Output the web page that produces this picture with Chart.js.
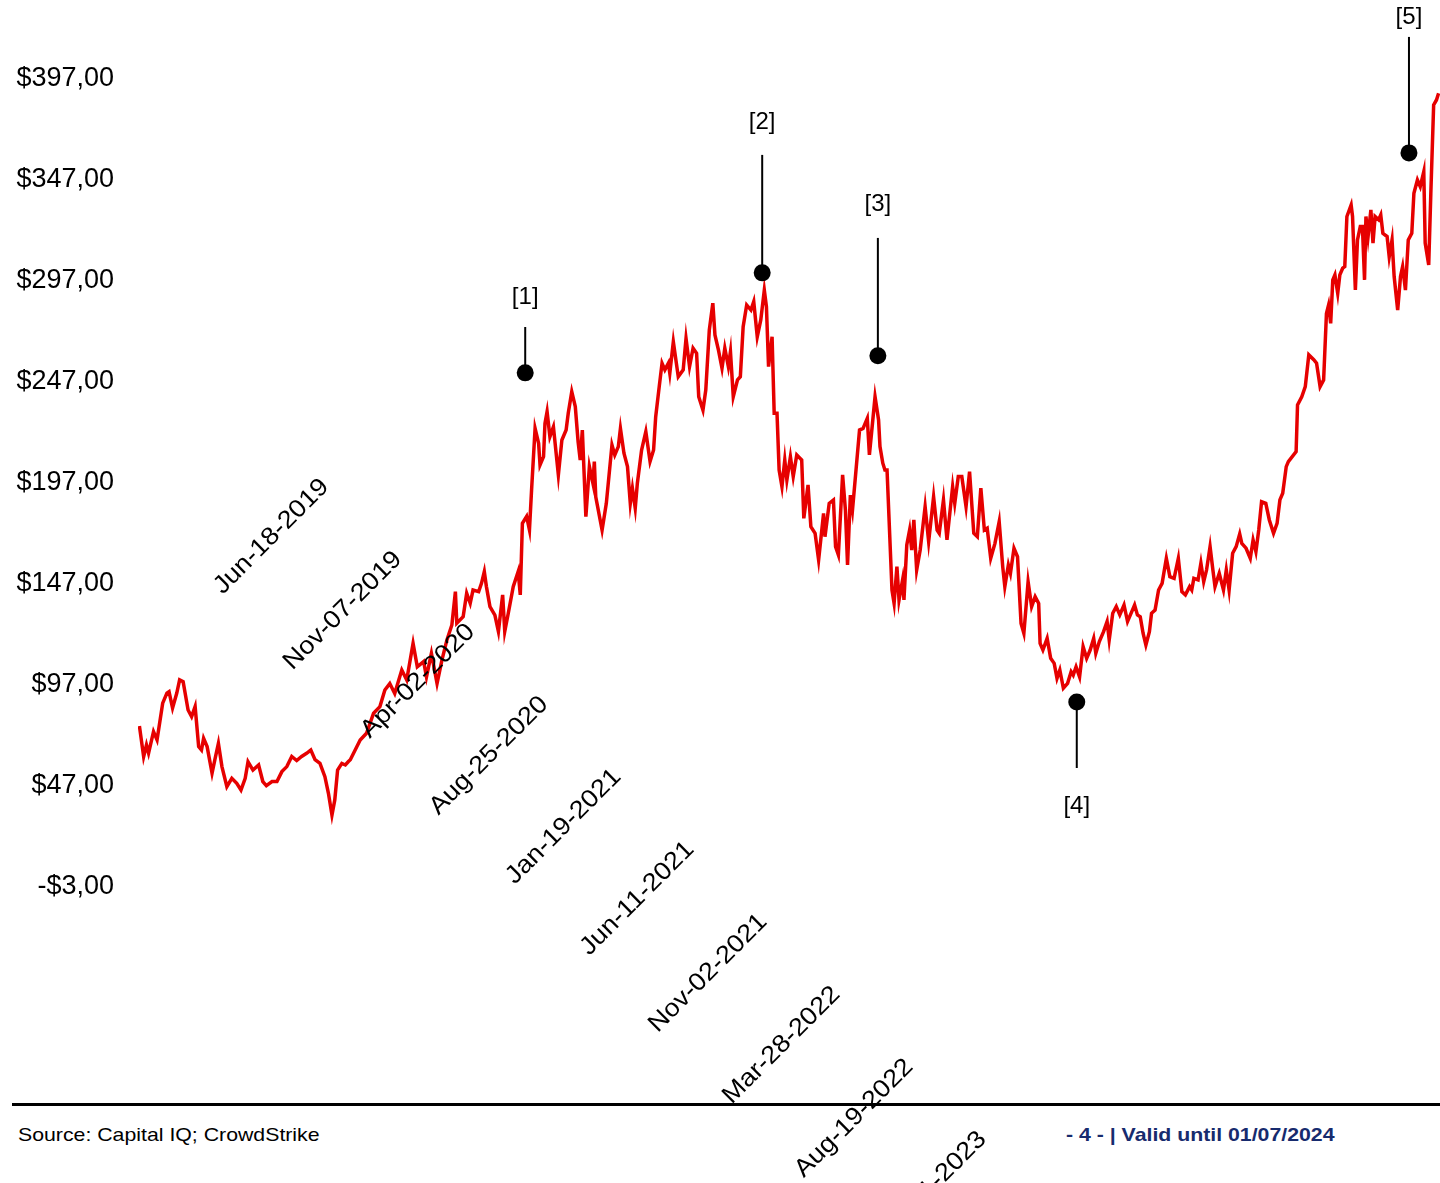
<!DOCTYPE html>
<html>
<head>
<meta charset="utf-8">
<title>CrowdStrike share price</title>
<script src="https://cdn.jsdelivr.net/npm/chart.js"></script>
<style>
  body { margin: 0; background: #fff; font-family: "Liberation Sans", Arial, sans-serif; }
  #wrap { position: relative; width: 1440px; height: 1183px; overflow: hidden; }
  #rule { position: absolute; left: 12px; top: 1103px; width: 1428px; height: 3px; background: #000; }
  .foot { position: absolute; top: 1123px; font-size: 19px; line-height: 24px; white-space: nowrap;
          transform-origin: left center; transform: scaleX(1.12); }
  #src { left: 18px; color: #000; }
  #valid { left: 1066px; color: #172b6e; font-weight: bold; }
  canvas { position: absolute; left: 0; top: 0; }
</style>
</head>
<body>
<div id="wrap">
  <div id="rule"></div>
  <div class="foot" id="src">Source: Capital IQ; CrowdStrike</div>
  <div class="foot" id="valid">- 4 - | Valid until 01/07/2024</div>
  <canvas id="chart" width="1440" height="1183"></canvas>
</div>
<script>
// days since IPO (Jun-12-2019) and closing price in USD
const days = [
  2, 8, 12, 15, 22, 27, 35, 41, 44, 49,
  55, 59, 64, 71, 76, 81, 86, 90, 93, 98,
  105, 109, 114, 119, 126, 133, 140, 146, 152, 156,
  163, 171, 177, 182, 190, 197, 204, 211, 218, 225,
  232, 239, 245, 251, 258, 265, 270, 275, 279, 283,
  289, 294, 298, 301, 315, 324, 334, 343, 350, 357,
  364, 374, 381, 390, 396, 405, 409, 416, 424, 431,
  438, 445, 450, 452, 461, 466, 471, 475, 483, 487,
  491, 494, 499, 506, 511, 517, 520, 525, 532, 539,
  542, 545, 551, 555, 558, 563, 568, 570, 575, 577,
  580, 584, 589, 596, 601, 607, 610, 615, 620, 624,
  627, 630, 635, 640, 645, 647, 649, 658, 664, 672,
  676, 681, 684, 689, 694, 698, 701, 705, 708, 714,
  720, 726, 731, 734, 739, 743, 747, 752, 754, 759,
  766, 773, 777, 782, 787, 792, 795, 801, 805, 810,
  815, 818, 823, 828, 832, 837, 840, 844, 850, 854,
  858, 863, 869, 873, 878, 883, 888, 891, 894, 899,
  902, 906, 909, 913, 917, 920, 925, 929, 934, 941,
  944, 950, 954, 960, 965, 972, 974, 980, 986, 989,
  993, 999, 1003, 1006, 1010, 1013, 1018, 1023, 1028, 1034,
  1037, 1040, 1045, 1050, 1052, 1056, 1059, 1062, 1069, 1072,
  1076, 1079, 1084, 1086, 1090, 1094, 1097, 1100, 1104, 1109,
  1116, 1121, 1128, 1133, 1136, 1142, 1147, 1155, 1158, 1163,
  1168, 1174, 1179, 1185, 1190, 1195, 1200, 1204, 1209, 1215,
  1221, 1226, 1229, 1234, 1237, 1242, 1247, 1252, 1256, 1262,
  1267, 1272, 1277, 1279, 1283, 1289, 1294, 1299, 1303, 1307,
  1312, 1318, 1323, 1326, 1330, 1335, 1340, 1345, 1350, 1355,
  1358, 1363, 1369, 1374, 1377, 1382, 1387, 1392, 1398, 1403,
  1409, 1413, 1417, 1421, 1425, 1429, 1434, 1437, 1442, 1447,
  1452, 1458, 1463, 1469, 1475, 1480, 1485, 1491, 1494, 1497,
  1503, 1507, 1511, 1515, 1520, 1524, 1527, 1533, 1539, 1543,
  1547, 1552, 1557, 1562, 1565, 1571, 1577, 1581, 1585, 1589,
  1593, 1599, 1604, 1610, 1615, 1619, 1623, 1628, 1631, 1642,
  1644, 1650, 1655, 1660, 1667, 1671, 1676, 1681, 1685, 1688,
  1691, 1694, 1697, 1701, 1704, 1708, 1711, 1714, 1720, 1722,
  1726, 1729, 1733, 1736, 1739, 1741, 1744, 1748, 1751, 1754,
  1759, 1762, 1765, 1771, 1774, 1778, 1781, 1786, 1790, 1793,
  1797, 1801, 1806, 1809, 1814, 1818, 1823, 1825, 1830, 1833,
  1837, 1841, 1844
];
const prices = [
  76.7, 61.5, 67.3, 63.3, 73.9, 69.8, 88, 93, 93.7, 85.6,
  93, 99.5, 98.6, 84.6, 81.3, 86.3, 66.5, 64.8, 70.6, 66.5,
  53.3, 60, 68.1, 56.6, 46.7, 50.8, 48.3, 45, 50.8, 59,
  54.9, 57.4, 49.2, 47.2, 49.2, 49.2, 54.1, 56.6, 61.6, 59.6,
  61.6, 63.2, 64.8, 60, 58.2, 51.6, 43.4, 32.6, 40.1, 54.9,
  58.2, 57.4, 59, 60, 69.8, 73.1, 83, 86.3, 94.5, 97.7,
  92.8, 104.4, 99.5, 117.6, 106, 108.6, 101, 112.7, 97.7, 109.4,
  119.3, 126.7, 143.2, 127.6, 130.8, 142.4, 137.4, 144, 143.2, 147.3,
  153.1, 145.7, 135.8, 131.6, 123.5, 141.6, 123.5, 132.5, 145.7, 153.1,
  141.6, 177, 180.4, 173.7, 193.5, 224, 216.6, 205.9, 210, 226.5,
  232.3, 219.9, 224.8, 201, 218.3, 223.2, 231.5, 242.2, 234.8, 217.4,
  208.4, 223.2, 180.3, 205.1, 196.9, 207.6, 190.2, 173.7, 186.9, 215.8,
  210.9, 215, 224, 211.7, 205.1, 186.9, 194.4, 184.5, 196.9, 213.3,
  222.4, 207.6, 213.3, 229.8, 244.7, 256.3, 253, 256.3, 251.3, 266.9,
  249.6, 253, 268.6, 254.6, 263.7, 261.2, 239.7, 233.1, 243, 272.7,
  286, 270.3, 262.8, 253.8, 263.7, 254.6, 262, 239.7, 248, 249.6,
  274.4, 285.1, 282.6, 286.8, 269.4, 277.7, 292.5, 284.3, 254.6, 269.4,
  231.5, 231.5, 203.4, 195.2, 208.4, 198.5, 210, 200.2, 210.9, 208.4,
  179.5, 196, 175.4, 172.1, 158.9, 181.9, 170.4, 186.9, 188.6, 165.5,
  161.4, 201, 183.6, 156.4, 191, 183.6, 203.4, 223.2, 224, 229,
  210.9, 221.6, 239.7, 228.2, 215, 206.8, 203.4, 203.4, 144, 137.4,
  155.6, 139.1, 149, 139.1, 166.3, 173.7, 163.8, 178.7, 153.9, 163.8,
  185.3, 168, 190.2, 173.7, 172.1, 188.6, 168.8, 195.2, 186.9, 200.2,
  200.2, 185.3, 202.6, 172.1, 170.4, 194.4, 173.7, 174.6, 159.7, 167.1,
  177.8, 155.6, 145.7, 156.4, 152.3, 164.7, 160.5, 127.5, 122.6, 148.1,
  135.8, 140.7, 137.4, 117.6, 114.3, 120.1, 110.2, 107.7, 100.3, 104.4,
  95.4, 97.8, 103.6, 101.9, 106, 101, 116, 110.2, 114.3, 120.1,
  112.7, 118.5, 123.4, 128.4, 119.3, 132.5, 135.8, 131.7, 136.6, 128.4,
  133.3, 136.6, 131.7, 130.8, 122.6, 116.8, 123.4, 132.5, 134.1, 144,
  147.3, 159.7, 150.6, 149.8, 159.7, 143.2, 141.6, 145.7, 144, 149.8,
  149, 157.3, 148.1, 153.9, 165.5, 153.9, 145.7, 152.3, 144, 153.9,
  144, 162.2, 165.5, 171.8, 167.1, 164.7, 159.7, 168.8, 163, 173.7,
  187.7, 186.9, 178.7, 172.1, 177, 188.6, 191.9, 205.1, 207.6, 212.5,
  235.6, 239.7, 244.7, 260.4, 258, 256.3, 244.7, 248, 280.9, 285.1,
  276, 297.5, 300, 290.9, 300, 303.3, 304.1, 328.9, 334.6, 328.9,
  292.5, 317.3, 323.9, 323.9, 297.5, 328.9, 319, 332.2, 315.7, 328.9,
  327.3, 329.7, 320.6, 319, 309, 317.3, 299.2, 282.6, 299.2, 304.1,
  292.5, 317.3, 320.6, 340.4, 347, 343.7, 351.1, 315.7, 304.9, 340.4,
  384.1, 386.6, 389.9
];

const yTicks = [-3, 47, 97, 147, 197, 247, 297, 347, 397];
const dateLabels = ['Jun-18-2019', 'Nov-07-2019', 'Apr-02-2020', 'Aug-25-2020', 'Jan-19-2021',
  'Jun-11-2021', 'Nov-02-2021', 'Mar-28-2022', 'Aug-19-2022', 'Jan-11-2023'];

// event markers: day, dot price, end of the stem and label position (in $)
const markerNames = ['[1]', '[2]', '[3]', '[4]', '[5]'];
const markerDays = [549, 885, 1049, 1331, 1802];
const markerPrices = [251.5, 301, 260, 88.6, 360.4];
const markerStemEnds = [274.2, 359.4, 318.3, 55.9, 417.8];
const markerLabelAt = [289, 375.7, 335.1, 37.1, 427.7];

const FONT = '"Liberation Sans", Arial, sans-serif';
const fmt = v => (v < 0 ? '-$' : '$') + Math.abs(v).toFixed(2).replace('.', ',');

const markerPlugin = {
  id: 'markers',
  afterDatasetsDraw(chart) {
    const { ctx, scales: { x, y } } = chart;
    ctx.save();
    ctx.strokeStyle = '#000';
    ctx.fillStyle = '#000';
    ctx.lineWidth = 2;
    ctx.font = '24px ' + FONT;
    ctx.textAlign = 'center';
    ctx.textBaseline = 'middle';
    markerDays.forEach((d, i) => {
      const px = x.getPixelForValue(d);
      ctx.beginPath();
      ctx.moveTo(px, y.getPixelForValue(markerPrices[i]));
      ctx.lineTo(px, y.getPixelForValue(markerStemEnds[i]));
      ctx.stroke();
      ctx.fillText(markerNames[i], px, y.getPixelForValue(markerLabelAt[i]));
    });
    ctx.restore();
  }
};

// the date labels run down the page in a diagonal cascade
const dateLabelPlugin = {
  id: 'dateLabels',
  afterDraw(chart) {
    const { ctx, chartArea } = chart;
    const stepX = chartArea.width * 0.0561;
    const stepY = 72.5;
    ctx.save();
    ctx.fillStyle = '#000';
    ctx.font = '25px ' + FONT;
    ctx.textAlign = 'right';
    ctx.textBaseline = 'middle';
    dateLabels.forEach((t, i) => {
      ctx.save();
      ctx.translate(chartArea.left + 187 + i * stepX, 483 + i * stepY);
      ctx.rotate(-Math.PI / 4);
      ctx.scale(1.08, 1);
      ctx.fillText(t, 0, 0);
      ctx.restore();
    });
    ctx.restore();
  }
};

new Chart(document.getElementById('chart'), {
  type: 'line',
  data: {
    datasets: [
      {
        label: 'markers',
        data: markerDays.map((d, i) => ({ x: d, y: markerPrices[i] })),
        showLine: false,
        pointRadius: 8.5,
        pointBackgroundColor: '#000',
        pointBorderWidth: 0
      },
      {
        label: 'CrowdStrike',
        data: days.map((d, i) => ({ x: d, y: prices[i] })),
        borderColor: '#e60000',
        borderWidth: 3.5,
        pointRadius: 0,
        tension: 0
      }
    ]
  },
  options: {
    responsive: false,
    animation: false,
    devicePixelRatio: 1,
    layout: { autoPadding: false, padding: { top: 45, bottom: 296, left: 0, right: 0 } },
    plugins: { legend: { display: false }, tooltip: { enabled: false } },
    scales: {
      x: { type: 'linear', min: 0, max: 1846, display: false },
      y: {
        min: -3,
        max: 413.8,
        grid: { display: false, drawTicks: false },
        border: { display: false },
        afterBuildTicks: s => { s.ticks = yTicks.map(v => ({ value: v })); },
        afterFit: s => { s.width = 138; },
        ticks: {
          padding: 24,
          color: '#000',
          font: { family: FONT, size: 27 },
          callback: v => fmt(v)
        }
      }
    }
  },
  plugins: [markerPlugin, dateLabelPlugin]
});
</script>
</body>
</html>
